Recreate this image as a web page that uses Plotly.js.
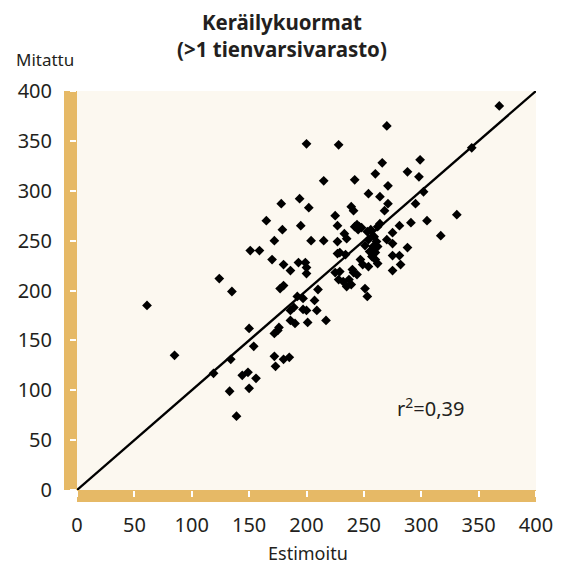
<!DOCTYPE html>
<html>
<head>
<meta charset="utf-8">
<script src="https://cdn.plot.ly/plotly-3.0.1.min.js"></script>
<style>html,body{margin:0;padding:0;background:#fff;}#chart{width:563px;height:564px;}</style>
</head>
<body>
<div id="chart"></div>
<script>
var estimoitu = [200,178,194,202,165,179,195,172,204,151,159,170,180,186,193,199,200,124,61,85,
  135,150,154,134,119,133,144,149,156,150,139,172,173,180,185,172,175,176,177,180,
  186,189,186,190,192,197,197,200,201,200,368,270,228,344,266,299,260,288,298,215,
  242,271,302,254,264,271,268,295,239,241,331,305,291,281,275,317,264,225,227,233,
  235,242,246,270,275,288,275,281,282,275,215,227,227,229,234,225,229,240,241,253,
  256,262,259,254,251,258,262,210,207,209,217,228,232,237,239,235,244,251,253,244,
  248,245,247,249,254,257,260,255,260,262,261];
var mitattu = [347,287,292,283,270,261,265,250,250,240,240,231,226,220,228,228,223,212,185,135,
  199,162,144,131,117,99,115,118,112,102,74,134,124,131,133,157,160,163,202,205,
  180,183,170,167,194,192,181,180,168,217,385,365,346,343,328,331,317,319,314,310,
  311,305,299,297,294,287,280,287,284,280,276,270,268,265,258,255,267,275,265,257,
  252,264,264,251,247,243,235,235,226,220,250,249,237,238,236,218,219,221,218,259,
  261,264,254,251,245,244,244,201,190,180,170,211,209,211,206,204,216,202,194,266,
  263,261,231,226,224,234,231,239,238,227,249];
var fitX = [0, 400];
var fitY = [0, 400];
var xTicks = [0,50,100,150,200,250,300,350,400];
var yTicks = [0,50,100,150,200,250,300,350,400];
var titleText = '<b>Keräilykuormat<br>(&gt;1 tienvarsivarasto)</b>';
var xLabel = 'Estimoitu';
var yLabel = 'Mitattu';
var r2Text = 'r<sup>2</sup>=0,39';

var FONT = '"Noto Sans", "DejaVu Sans", sans-serif';
var TXT = '#231f20';
var GOLD = '#e6b966';

var traces = [
  {x: fitX, y: fitY, type: 'scatter', mode: 'lines',
   line: {color: '#000', width: 2.3}, hoverinfo: 'skip'},
  {x: estimoitu, y: mitattu, type: 'scatter', mode: 'markers',
   marker: {symbol: 'diamond', size: 7.5, color: '#000', line: {width: 0}}}
];

var layout = {
  width: 563, height: 564,
  margin: {l: 77, r: 27, t: 91, b: 74, pad: 0},
  paper_bgcolor: '#ffffff',
  plot_bgcolor: '#fcf8f0',
  showlegend: false,
  font: {family: FONT, color: TXT, size: 20},
  xaxis: {range: [0, 400], tickvals: xTicks, ticktext: xTicks.map(String),
          showgrid: false, zeroline: false, showline: false,
          ticks: 'outside', ticklen: 6, tickwidth: 2, tickcolor: '#ffffff',
          ticklabelstandoff: 11, tickfont: {family: FONT, size: 20, color: TXT}, fixedrange: true},
  yaxis: {range: [0, 400], tickvals: yTicks, ticktext: yTicks.map(String),
          showgrid: false, zeroline: false, showline: false,
          ticks: 'outside', ticklen: 6, tickwidth: 2, tickcolor: '#ffffff',
          ticklabelstandoff: 14, tickfont: {family: FONT, size: 20, color: TXT}, fixedrange: true},
  shapes: [
    {type: 'rect', xref: 'paper', yref: 'paper', layer: 'below',
     x0: -13/459, x1: 0, y0: 0, y1: 1, fillcolor: GOLD, line: {width: 0}},
    {type: 'rect', xref: 'paper', yref: 'paper', layer: 'below',
     x0: 0, x1: 1, y0: -12/399, y1: 0, fillcolor: GOLD, line: {width: 0}}
  ],
  annotations: [
    {text: titleText, xref: 'paper', yref: 'paper', x: (281.5-77)/459, y: (490-36)/399,
     xanchor: 'center', yanchor: 'middle', showarrow: false,
     font: {family: FONT, size: 20.5, color: TXT}},
    {text: yLabel, xref: 'paper', yref: 'paper', x: -63/459, y: (490-60)/399,
     xanchor: 'left', yanchor: 'middle', showarrow: false, font: {family: FONT, size: 17, color: TXT}},
    {text: xLabel, xref: 'paper', yref: 'paper', x: (308-77)/459, y: (490-553)/399,
     xanchor: 'center', yanchor: 'middle', showarrow: false, font: {family: FONT, size: 18, color: TXT}},
    {text: r2Text, xref: 'x', yref: 'y', x: 308, y: 83,
     xanchor: 'center', yanchor: 'middle', showarrow: false, font: {family: FONT, size: 20, color: TXT}}
  ]
};

Plotly.newPlot('chart', traces, layout, {staticPlot: true, displayModeBar: false});
</script>
</body>
</html>
